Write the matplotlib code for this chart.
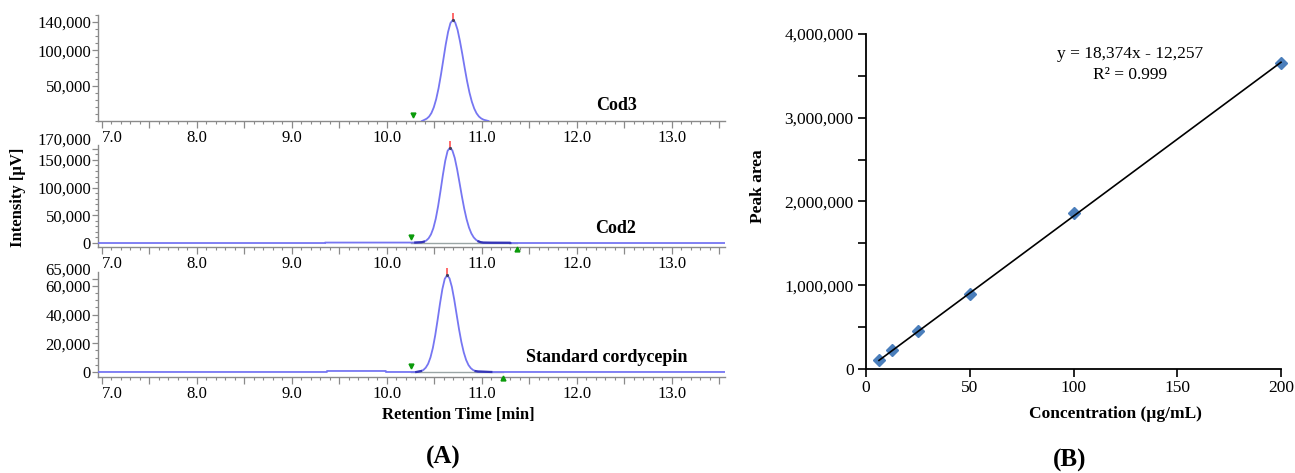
import numpy as np
import matplotlib
matplotlib.use("Agg")
import matplotlib.pyplot as plt
from matplotlib.ticker import MultipleLocator, FuncFormatter, FixedLocator
from matplotlib.transforms import ScaledTranslation

plt.rcParams['font.family'] = ['Liberation Serif', 'DejaVu Serif']

# ---------------- DATA ----------------
# Panel A: chromatograms (retention time [min], intensity [uV])
cod3_time = [10.37, 10.395, 10.42, 10.445, 10.47, 10.495, 10.52, 10.545, 10.57, 10.595,
             10.62, 10.645, 10.67, 10.695, 10.72, 10.745, 10.77, 10.795, 10.82, 10.845,
             10.87, 10.895, 10.92, 10.945, 10.97, 10.995, 11.02, 11.045, 11.07]
cod3_int = [0, 1600, 3300, 6300, 11400, 19400, 30900, 46400, 65500, 86700,
            108000, 126000, 138600, 143000, 139400, 129000, 113000, 94600, 75000, 56400,
            40300, 27400, 17700, 10800, 6300, 3500, 1800, 900, 0]

cod2_time = [6.96, 9.35, 9.35, 10.30,
             10.365, 10.39, 10.415, 10.44, 10.465, 10.49, 10.515, 10.54, 10.565, 10.59,
             10.615, 10.64, 10.665, 10.69, 10.715, 10.74, 10.765, 10.79, 10.815, 10.84,
             10.865, 10.89, 10.915, 10.94, 10.965, 10.99, 11.015,
             11.1, 11.3, 11.3, 13.56]
cod2_int = [0, 0, 800, 800,
            1400, 2400, 4400, 8400, 15400, 26800, 43700, 66400, 93600, 122400,
            148200, 166300, 172000, 167200, 153600, 133300, 109300, 84700, 62000, 42900,
            28000, 17300, 10100, 5600, 2900, 1400, 700,
            500, 400, 0, 0]

std_time = [6.96, 9.37, 9.37, 9.99, 9.99, 10.31,
            10.335, 10.36, 10.385, 10.41, 10.435, 10.46, 10.485, 10.51, 10.535, 10.56,
            10.585, 10.61, 10.635, 10.66, 10.685, 10.71, 10.735, 10.76, 10.785, 10.81,
            10.835, 10.86, 10.885, 10.91, 10.935, 10.96,
            11.1, 13.56]
std_int = [0, 0, 700, 700, 0, 0,
           260, 630, 1400, 3000, 5700, 10200, 16800, 25700, 36400, 47700,
           57800, 64900, 67500, 65300, 59300, 50400, 40100, 29900, 20900, 13700,
           8400, 4800, 2600, 1300, 600, 300,
           0, 0]

# peak start / end markers (min)
cod3_marks = [10.28]
cod2_marks = [10.25, 11.37]
std_marks = [10.25, 11.22]

sample_labels = ["Cod3", "Cod2", "Standard cordycepin"]

top_yticks = [50000, 100000, 140000]
mid_yticks = [0, 50000, 100000, 150000, 170000]
bot_yticks = [0, 20000, 40000, 60000, 65000]

# Panel B: calibration curve
conc = [6.25, 12.5, 25, 50, 100, 200]
peak_area = [103000, 222000, 449000, 899000, 1862000, 3652000]
slope = 18374
intercept = -12257
eq_text = "y = 18,374x - 12,257"
r2_text = "R\u00b2 = 0.999"

# ---------------- FIGURE ----------------
W, H = 1295, 473
fig = plt.figure(figsize=(W / 100, H / 100), dpi=100)


def px_axes(l, t, r, b):
    return fig.add_axes([l / W, 1 - b / H, (r - l) / W, (b - t) / H])


def ftext(x, y, s, **kw):
    fig.text(x / W, 1 - y / H, s, ha='center', va='center', **kw)


trace_c = '#7676f2'
dark_c = '#3535b5'
spine_c = '#8a8a8a'
comma = FuncFormatter(lambda v, p: f"{int(round(v)):,}")

axA1 = px_axes(98, 15, 725, 121)
axA2 = px_axes(98, 145, 725, 247)
axA3 = px_axes(98, 272, 725, 377)

panels = [
    (axA1, cod3_time, cod3_int, cod3_marks, (0, 150000), top_yticks, 10000, []),
    (axA2, cod2_time, cod2_int, cod2_marks, (-7200, 176900), mid_yticks, 10000, [(10.30, 10.40), (10.95, 11.30)]),
    (axA3, std_time, std_int, std_marks, (-3500, 69700), bot_yticks, 5000, [(10.27, 10.37), (10.93, 11.10)]),
]

for i, (ax, t, y, marks, ylim, yt, ymin, dark) in enumerate(panels):
    t = np.asarray(t)
    y = np.asarray(y)
    ax.set_xlim(6.96, 13.56)
    ax.set_ylim(*ylim)
    for s in ['top', 'right']:
        ax.spines[s].set_visible(False)
    for s in ['left', 'bottom']:
        ax.spines[s].set_color(spine_c)
        ax.spines[s].set_linewidth(1.0)
    # integration baseline (gray) between markers
    if len(marks) == 2:
        ax.plot([marks[0], marks[1]], [0, 0], color='#9aa5a5', lw=1.0, zorder=2)
    ax.plot(t, y, color=trace_c, lw=1.3, zorder=3, clip_on=True)
    for (a, b) in dark:
        m = (t >= a) & (t <= b)
        ax.plot(t[m], y[m], color=dark_c, lw=1.6, zorder=4)
    # apex marker
    k = int(np.argmax(y))
    up = ScaledTranslation(0, 2 / 72, fig.dpi_scale_trans)
    ax.plot([t[k]], [y[k]], marker='|', color='#ff5050', ms=6, mew=1.2,
            transform=ax.transData + up, zorder=5, clip_on=False)
    ax.plot([t[k]], [y[k]], marker='.', color='#404060', ms=2.5,
            transform=ax.transData, zorder=6, clip_on=False)
    # start / end markers
    off_dn = ScaledTranslation(0, 4 / 72, fig.dpi_scale_trans)
    off_up = ScaledTranslation(0, -4 / 72, fig.dpi_scale_trans)
    ax.plot([marks[0]], [0], marker='v', color='#0a9a0a', ms=3.5, ls='none',
            transform=ax.transData + off_dn, zorder=6, clip_on=False)
    if len(marks) == 2:
        ax.plot([marks[1]], [0], marker='^', color='#0a9a0a', ms=3.5, ls='none',
                transform=ax.transData + off_up, zorder=6, clip_on=False)
    # x ticks
    ax.xaxis.set_major_locator(MultipleLocator(0.5))
    ax.xaxis.set_minor_locator(MultipleLocator(0.1))
    ax.xaxis.set_major_formatter(FuncFormatter(
        lambda v, p: f"{v:.1f}" if abs(v - round(v)) < 1e-6 else ""))
    ax.tick_params(axis='x', which='major', length=5, width=0.9, color=spine_c,
                   labelsize=12, pad=1.5)
    ax.tick_params(axis='x', which='minor', length=2.5, width=0.8, color=spine_c)
    # y ticks
    ax.yaxis.set_major_locator(FixedLocator(yt))
    ax.yaxis.set_minor_locator(MultipleLocator(ymin))
    ax.yaxis.set_major_formatter(comma)
    ax.tick_params(axis='y', which='major', length=4, width=0.9, color=spine_c,
                   labelsize=12, pad=1)
    ax.tick_params(axis='y', which='minor', length=2, width=0.8, color=spine_c)
    fig.canvas.draw()
    labs = ax.get_xticklabels()
    for lab in labs:
        if lab.get_text() == "7.0":
            lab.set_ha('left')
    if i > 0:
        ylabs = ax.get_yticklabels()
        ylabs[-1].set_va('bottom')

ftext(617, 105, sample_labels[0], fontsize=13, fontweight='bold')
ftext(616, 228, sample_labels[1], fontsize=13, fontweight='bold')
ftext(607, 357, sample_labels[2], fontsize=13, fontweight='bold')
ftext(18.5, 197, "Intensity [\u00b5V]", fontsize=12, fontweight='bold', rotation=90)
ftext(458, 415, "Retention Time [min]", fontsize=12, fontweight='bold')
ftext(443, 457, "(A)", fontsize=18, fontweight='bold')

# ---------------- Panel B ----------------
axB = px_axes(866, 34, 1281, 369)
axB.set_xlim(0, 200)
axB.set_ylim(0, 4000000)
for s in ['top', 'right']:
    axB.spines[s].set_visible(False)
for s in ['left', 'bottom']:
    axB.spines[s].set_color('black')
    axB.spines[s].set_linewidth(1.3)
axB.plot(conc, peak_area, ls='none', marker='D', ms=6.5, color='#4a7ebb',
         mec='#4a7ebb', zorder=3, clip_on=False)
xfit = np.array([conc[0], conc[-1]])
axB.plot(xfit, slope * xfit + intercept, color='black', lw=1.2, zorder=4, clip_on=False)
axB.xaxis.set_major_locator(MultipleLocator(50))
axB.yaxis.set_major_locator(MultipleLocator(1000000))
axB.yaxis.set_minor_locator(MultipleLocator(500000))
axB.yaxis.set_major_formatter(comma)
axB.tick_params(axis='both', which='major', length=6, width=1.2, labelsize=12.5)
axB.tick_params(axis='y', which='minor', length=6, width=1.2)
axB.tick_params(axis='x', pad=2)
axB.tick_params(axis='y', pad=3)

ftext(1130, 54, eq_text, fontsize=12.5)
ftext(1130, 75, r2_text, fontsize=12.5)
ftext(758, 186, "Peak area", fontsize=12.5, fontweight='bold', rotation=90)
ftext(1115, 414, "Concentration (\u00b5g/mL)", fontsize=12.5, fontweight='bold')
ftext(1070, 460, "(B)", fontsize=18, fontweight='bold')

fig.savefig("out.png", dpi=100)
